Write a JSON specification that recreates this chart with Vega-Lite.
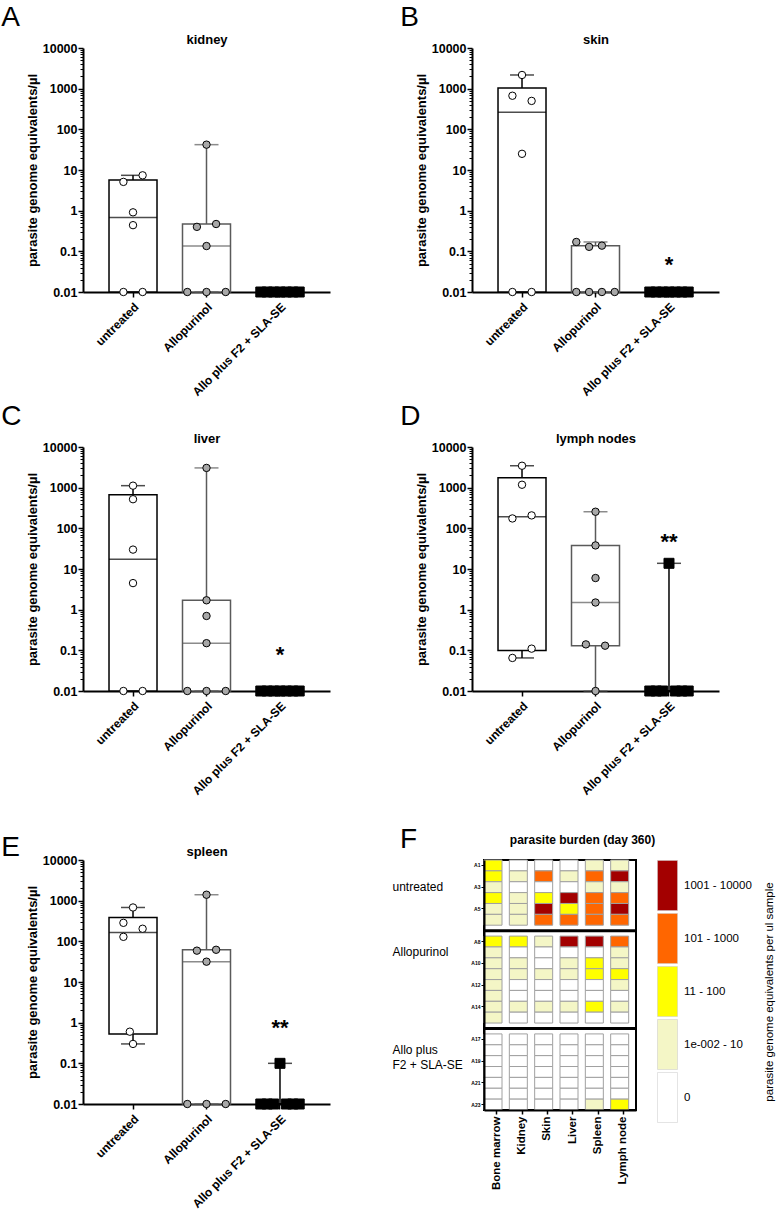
{
"$schema": "https://vega.github.io/schema/vega-lite/v6.json",
"background": "white",
"padding": {"left": 1, "top": 4, "right": 0, "bottom": 0},
"config": {
  "view": {"stroke": null},
  "font": "Liberation Sans",
  "axis": {"grid": false, "domainColor": "black", "tickColor": "black", "labelColor": "black", "titleColor": "black", "labelFont": "Liberation Sans", "titleFont": "Liberation Sans"},
  "title": {"color": "black"},
  "legend": {"labelFont": "Liberation Sans", "titleFont": "Liberation Sans", "labelColor": "black", "titleColor": "black"}
},
"datasets": {
  "boxes": [
    {"organ":"kidney","group":"untreated","min":0.01,"q1":0.01,"median":0.675,"q3":5.7,"max":7.4},
    {"organ":"kidney","group":"Allopurinol","min":0.01,"q1":0.01,"median":0.135,"q3":0.47,"max":42},
    {"organ":"kidney","group":"Allo plus F2 + SLA-SE","min":0.01,"q1":0.01,"median":0.01,"q3":0.01,"max":0.01},
    {"organ":"skin","group":"untreated","min":0.01,"q1":0.01,"median":262,"q3":1045,"max":2170},
    {"organ":"skin","group":"Allopurinol","min":0.01,"q1":0.01,"median":0.01,"q3":0.138,"max":0.17},
    {"organ":"skin","group":"Allo plus F2 + SLA-SE","min":0.01,"q1":0.01,"median":0.01,"q3":0.01,"max":0.01},
    {"organ":"liver","group":"untreated","min":0.01,"q1":0.01,"median":17.25,"q3":670,"max":1120},
    {"organ":"liver","group":"Allopurinol","min":0.01,"q1":0.01,"median":0.15,"q3":1.7,"max":3060},
    {"organ":"liver","group":"Allo plus F2 + SLA-SE","min":0.01,"q1":0.01,"median":0.01,"q3":0.01,"max":0.01},
    {"organ":"lymph nodes","group":"untreated","min":0.065,"q1":0.099,"median":191.5,"q3":1750,"max":3460},
    {"organ":"lymph nodes","group":"Allopurinol","min":0.01,"q1":0.13,"median":1.5,"q3":38,"max":256},
    {"organ":"lymph nodes","group":"Allo plus F2 + SLA-SE","min":0.01,"q1":0.01,"median":0.01,"q3":0.01,"max":13.8},
    {"organ":"spleen","group":"untreated","min":0.3,"q1":0.525,"median":166,"q3":384,"max":680},
    {"organ":"spleen","group":"Allopurinol","min":0.01,"q1":0.01,"median":31.6,"q3":62,"max":1400},
    {"organ":"spleen","group":"Allo plus F2 + SLA-SE","min":0.01,"q1":0.01,"median":0.01,"q3":0.01,"max":0.1}
  ],
  "points": [
    {"organ":"kidney","group":"untreated","value":7.4,"lane":1.5},
    {"organ":"kidney","group":"untreated","value":5.1,"lane":-1.5},
    {"organ":"kidney","group":"untreated","value":0.91,"lane":0},
    {"organ":"kidney","group":"untreated","value":0.44,"lane":0},
    {"organ":"kidney","group":"untreated","value":0.01,"lane":-1.5},
    {"organ":"kidney","group":"untreated","value":0.01,"lane":1.5},
    {"organ":"kidney","group":"Allopurinol","value":42,"lane":0},
    {"organ":"kidney","group":"Allopurinol","value":0.47,"lane":1.5},
    {"organ":"kidney","group":"Allopurinol","value":0.4,"lane":-1.5},
    {"organ":"kidney","group":"Allopurinol","value":0.135,"lane":0},
    {"organ":"kidney","group":"Allopurinol","value":0.01,"lane":-3},
    {"organ":"kidney","group":"Allopurinol","value":0.01,"lane":0},
    {"organ":"kidney","group":"Allopurinol","value":0.01,"lane":3},
    {"organ":"kidney","group":"Allo plus F2 + SLA-SE","value":0.01,"lane":-3},
    {"organ":"kidney","group":"Allo plus F2 + SLA-SE","value":0.01,"lane":-2},
    {"organ":"kidney","group":"Allo plus F2 + SLA-SE","value":0.01,"lane":-1},
    {"organ":"kidney","group":"Allo plus F2 + SLA-SE","value":0.01,"lane":0},
    {"organ":"kidney","group":"Allo plus F2 + SLA-SE","value":0.01,"lane":1},
    {"organ":"kidney","group":"Allo plus F2 + SLA-SE","value":0.01,"lane":2},
    {"organ":"kidney","group":"Allo plus F2 + SLA-SE","value":0.01,"lane":3},
    {"organ":"skin","group":"untreated","value":2170,"lane":0},
    {"organ":"skin","group":"untreated","value":670,"lane":-1.5},
    {"organ":"skin","group":"untreated","value":500,"lane":1.5},
    {"organ":"skin","group":"untreated","value":25,"lane":0},
    {"organ":"skin","group":"untreated","value":0.01,"lane":-1.5},
    {"organ":"skin","group":"untreated","value":0.01,"lane":1.5},
    {"organ":"skin","group":"Allopurinol","value":0.17,"lane":-3},
    {"organ":"skin","group":"Allopurinol","value":0.129,"lane":-1},
    {"organ":"skin","group":"Allopurinol","value":0.138,"lane":1},
    {"organ":"skin","group":"Allopurinol","value":0.01,"lane":-3},
    {"organ":"skin","group":"Allopurinol","value":0.01,"lane":-1},
    {"organ":"skin","group":"Allopurinol","value":0.01,"lane":1},
    {"organ":"skin","group":"Allopurinol","value":0.01,"lane":3},
    {"organ":"skin","group":"Allo plus F2 + SLA-SE","value":0.01,"lane":-3},
    {"organ":"skin","group":"Allo plus F2 + SLA-SE","value":0.01,"lane":-2},
    {"organ":"skin","group":"Allo plus F2 + SLA-SE","value":0.01,"lane":-1},
    {"organ":"skin","group":"Allo plus F2 + SLA-SE","value":0.01,"lane":0},
    {"organ":"skin","group":"Allo plus F2 + SLA-SE","value":0.01,"lane":1},
    {"organ":"skin","group":"Allo plus F2 + SLA-SE","value":0.01,"lane":2},
    {"organ":"skin","group":"Allo plus F2 + SLA-SE","value":0.01,"lane":3},
    {"organ":"liver","group":"untreated","value":1120,"lane":0},
    {"organ":"liver","group":"untreated","value":520,"lane":0},
    {"organ":"liver","group":"untreated","value":30,"lane":0},
    {"organ":"liver","group":"untreated","value":4.5,"lane":0},
    {"organ":"liver","group":"untreated","value":0.01,"lane":-1.5},
    {"organ":"liver","group":"untreated","value":0.01,"lane":1.5},
    {"organ":"liver","group":"Allopurinol","value":3060,"lane":0},
    {"organ":"liver","group":"Allopurinol","value":1.7,"lane":0},
    {"organ":"liver","group":"Allopurinol","value":0.7,"lane":0},
    {"organ":"liver","group":"Allopurinol","value":0.15,"lane":0},
    {"organ":"liver","group":"Allopurinol","value":0.01,"lane":-3},
    {"organ":"liver","group":"Allopurinol","value":0.01,"lane":0},
    {"organ":"liver","group":"Allopurinol","value":0.01,"lane":3},
    {"organ":"liver","group":"Allo plus F2 + SLA-SE","value":0.01,"lane":-3},
    {"organ":"liver","group":"Allo plus F2 + SLA-SE","value":0.01,"lane":-2},
    {"organ":"liver","group":"Allo plus F2 + SLA-SE","value":0.01,"lane":-1},
    {"organ":"liver","group":"Allo plus F2 + SLA-SE","value":0.01,"lane":0},
    {"organ":"liver","group":"Allo plus F2 + SLA-SE","value":0.01,"lane":1},
    {"organ":"liver","group":"Allo plus F2 + SLA-SE","value":0.01,"lane":2},
    {"organ":"liver","group":"Allo plus F2 + SLA-SE","value":0.01,"lane":3},
    {"organ":"lymph nodes","group":"untreated","value":3460,"lane":0},
    {"organ":"lymph nodes","group":"untreated","value":1180,"lane":0},
    {"organ":"lymph nodes","group":"untreated","value":175,"lane":-1.5},
    {"organ":"lymph nodes","group":"untreated","value":208,"lane":1.5},
    {"organ":"lymph nodes","group":"untreated","value":0.11,"lane":1.5},
    {"organ":"lymph nodes","group":"untreated","value":0.065,"lane":-1.5},
    {"organ":"lymph nodes","group":"Allopurinol","value":256,"lane":0},
    {"organ":"lymph nodes","group":"Allopurinol","value":38,"lane":0},
    {"organ":"lymph nodes","group":"Allopurinol","value":6,"lane":0},
    {"organ":"lymph nodes","group":"Allopurinol","value":1.5,"lane":0},
    {"organ":"lymph nodes","group":"Allopurinol","value":0.14,"lane":-1.5},
    {"organ":"lymph nodes","group":"Allopurinol","value":0.13,"lane":1.5},
    {"organ":"lymph nodes","group":"Allopurinol","value":0.01,"lane":0},
    {"organ":"lymph nodes","group":"Allo plus F2 + SLA-SE","value":13.8,"lane":0},
    {"organ":"lymph nodes","group":"Allo plus F2 + SLA-SE","value":0.01,"lane":-3},
    {"organ":"lymph nodes","group":"Allo plus F2 + SLA-SE","value":0.01,"lane":-2},
    {"organ":"lymph nodes","group":"Allo plus F2 + SLA-SE","value":0.01,"lane":-1},
    {"organ":"lymph nodes","group":"Allo plus F2 + SLA-SE","value":0.01,"lane":1},
    {"organ":"lymph nodes","group":"Allo plus F2 + SLA-SE","value":0.01,"lane":2},
    {"organ":"lymph nodes","group":"Allo plus F2 + SLA-SE","value":0.01,"lane":3},
    {"organ":"spleen","group":"untreated","value":680,"lane":0},
    {"organ":"spleen","group":"untreated","value":285,"lane":-1.5},
    {"organ":"spleen","group":"untreated","value":204,"lane":1.5},
    {"organ":"spleen","group":"untreated","value":129,"lane":-1.5},
    {"organ":"spleen","group":"untreated","value":0.6,"lane":-0.5},
    {"organ":"spleen","group":"untreated","value":0.3,"lane":0},
    {"organ":"spleen","group":"Allopurinol","value":1400,"lane":0},
    {"organ":"spleen","group":"Allopurinol","value":59,"lane":-1.5},
    {"organ":"spleen","group":"Allopurinol","value":62,"lane":1.5},
    {"organ":"spleen","group":"Allopurinol","value":31.6,"lane":0},
    {"organ":"spleen","group":"Allopurinol","value":0.01,"lane":-3},
    {"organ":"spleen","group":"Allopurinol","value":0.01,"lane":0},
    {"organ":"spleen","group":"Allopurinol","value":0.01,"lane":3},
    {"organ":"spleen","group":"Allo plus F2 + SLA-SE","value":0.1,"lane":0},
    {"organ":"spleen","group":"Allo plus F2 + SLA-SE","value":0.01,"lane":-3},
    {"organ":"spleen","group":"Allo plus F2 + SLA-SE","value":0.01,"lane":-2},
    {"organ":"spleen","group":"Allo plus F2 + SLA-SE","value":0.01,"lane":-1},
    {"organ":"spleen","group":"Allo plus F2 + SLA-SE","value":0.01,"lane":1},
    {"organ":"spleen","group":"Allo plus F2 + SLA-SE","value":0.01,"lane":2},
    {"organ":"spleen","group":"Allo plus F2 + SLA-SE","value":0.01,"lane":3}
  ],
  "stars": [
    {"organ":"skin","group":"Allo plus F2 + SLA-SE","value":0.06,"label":"*"},
    {"organ":"liver","group":"Allo plus F2 + SLA-SE","value":0.1,"label":"*"},
    {"organ":"lymph nodes","group":"Allo plus F2 + SLA-SE","value":60,"label":"**"},
    {"organ":"spleen","group":"Allo plus F2 + SLA-SE","value":1,"label":"**"}
  ],
  "separators": [{"mouse":"A7"},{"mouse":"A16"}],
  "heat": [
    {"mouse":"A1","tissue":"Bone marrow","level":"11 - 100"},{"mouse":"A1","tissue":"Kidney","level":"0"},{"mouse":"A1","tissue":"Skin","level":"0"},{"mouse":"A1","tissue":"Liver","level":"0"},{"mouse":"A1","tissue":"Spleen","level":"1e-002 - 10"},{"mouse":"A1","tissue":"Lymph node","level":"1e-002 - 10"},
    {"mouse":"A2","tissue":"Bone marrow","level":"11 - 100"},{"mouse":"A2","tissue":"Kidney","level":"1e-002 - 10"},{"mouse":"A2","tissue":"Skin","level":"101 - 1000"},{"mouse":"A2","tissue":"Liver","level":"1e-002 - 10"},{"mouse":"A2","tissue":"Spleen","level":"101 - 1000"},{"mouse":"A2","tissue":"Lymph node","level":"1001 - 10000"},
    {"mouse":"A3","tissue":"Bone marrow","level":"1e-002 - 10"},{"mouse":"A3","tissue":"Kidney","level":"0"},{"mouse":"A3","tissue":"Skin","level":"0"},{"mouse":"A3","tissue":"Liver","level":"0"},{"mouse":"A3","tissue":"Spleen","level":"1e-002 - 10"},{"mouse":"A3","tissue":"Lymph node","level":"1e-002 - 10"},
    {"mouse":"A4","tissue":"Bone marrow","level":"11 - 100"},{"mouse":"A4","tissue":"Kidney","level":"1e-002 - 10"},{"mouse":"A4","tissue":"Skin","level":"11 - 100"},{"mouse":"A4","tissue":"Liver","level":"1001 - 10000"},{"mouse":"A4","tissue":"Spleen","level":"101 - 1000"},{"mouse":"A4","tissue":"Lymph node","level":"101 - 1000"},
    {"mouse":"A5","tissue":"Bone marrow","level":"1e-002 - 10"},{"mouse":"A5","tissue":"Kidney","level":"1e-002 - 10"},{"mouse":"A5","tissue":"Skin","level":"1001 - 10000"},{"mouse":"A5","tissue":"Liver","level":"11 - 100"},{"mouse":"A5","tissue":"Spleen","level":"101 - 1000"},{"mouse":"A5","tissue":"Lymph node","level":"1001 - 10000"},
    {"mouse":"A6","tissue":"Bone marrow","level":"1e-002 - 10"},{"mouse":"A6","tissue":"Kidney","level":"1e-002 - 10"},{"mouse":"A6","tissue":"Skin","level":"101 - 1000"},{"mouse":"A6","tissue":"Liver","level":"101 - 1000"},{"mouse":"A6","tissue":"Spleen","level":"101 - 1000"},{"mouse":"A6","tissue":"Lymph node","level":"101 - 1000"},
    {"mouse":"A8","tissue":"Bone marrow","level":"11 - 100"},{"mouse":"A8","tissue":"Kidney","level":"11 - 100"},{"mouse":"A8","tissue":"Skin","level":"1e-002 - 10"},{"mouse":"A8","tissue":"Liver","level":"1001 - 10000"},{"mouse":"A8","tissue":"Spleen","level":"1001 - 10000"},{"mouse":"A8","tissue":"Lymph node","level":"101 - 1000"},
    {"mouse":"A9","tissue":"Bone marrow","level":"1e-002 - 10"},{"mouse":"A9","tissue":"Kidney","level":"0"},{"mouse":"A9","tissue":"Skin","level":"0"},{"mouse":"A9","tissue":"Liver","level":"0"},{"mouse":"A9","tissue":"Spleen","level":"0"},{"mouse":"A9","tissue":"Lymph node","level":"1e-002 - 10"},
    {"mouse":"A10","tissue":"Bone marrow","level":"1e-002 - 10"},{"mouse":"A10","tissue":"Kidney","level":"1e-002 - 10"},{"mouse":"A10","tissue":"Skin","level":"0"},{"mouse":"A10","tissue":"Liver","level":"1e-002 - 10"},{"mouse":"A10","tissue":"Spleen","level":"11 - 100"},{"mouse":"A10","tissue":"Lymph node","level":"1e-002 - 10"},
    {"mouse":"A11","tissue":"Bone marrow","level":"1e-002 - 10"},{"mouse":"A11","tissue":"Kidney","level":"1e-002 - 10"},{"mouse":"A11","tissue":"Skin","level":"1e-002 - 10"},{"mouse":"A11","tissue":"Liver","level":"1e-002 - 10"},{"mouse":"A11","tissue":"Spleen","level":"11 - 100"},{"mouse":"A11","tissue":"Lymph node","level":"11 - 100"},
    {"mouse":"A12","tissue":"Bone marrow","level":"1e-002 - 10"},{"mouse":"A12","tissue":"Kidney","level":"0"},{"mouse":"A12","tissue":"Skin","level":"0"},{"mouse":"A12","tissue":"Liver","level":"0"},{"mouse":"A12","tissue":"Spleen","level":"0"},{"mouse":"A12","tissue":"Lymph node","level":"1e-002 - 10"},
    {"mouse":"A13","tissue":"Bone marrow","level":"1e-002 - 10"},{"mouse":"A13","tissue":"Kidney","level":"0"},{"mouse":"A13","tissue":"Skin","level":"0"},{"mouse":"A13","tissue":"Liver","level":"0"},{"mouse":"A13","tissue":"Spleen","level":"0"},{"mouse":"A13","tissue":"Lymph node","level":"0"},
    {"mouse":"A14","tissue":"Bone marrow","level":"1e-002 - 10"},{"mouse":"A14","tissue":"Kidney","level":"1e-002 - 10"},{"mouse":"A14","tissue":"Skin","level":"1e-002 - 10"},{"mouse":"A14","tissue":"Liver","level":"1e-002 - 10"},{"mouse":"A14","tissue":"Spleen","level":"11 - 100"},{"mouse":"A14","tissue":"Lymph node","level":"1e-002 - 10"},
    {"mouse":"A15","tissue":"Bone marrow","level":"1e-002 - 10"},{"mouse":"A15","tissue":"Kidney","level":"0"},{"mouse":"A15","tissue":"Skin","level":"0"},{"mouse":"A15","tissue":"Liver","level":"0"},{"mouse":"A15","tissue":"Spleen","level":"0"},{"mouse":"A15","tissue":"Lymph node","level":"0"},
    {"mouse":"A17","tissue":"Bone marrow","level":"0"},{"mouse":"A17","tissue":"Kidney","level":"0"},{"mouse":"A17","tissue":"Skin","level":"0"},{"mouse":"A17","tissue":"Liver","level":"0"},{"mouse":"A17","tissue":"Spleen","level":"0"},{"mouse":"A17","tissue":"Lymph node","level":"0"},
    {"mouse":"A18","tissue":"Bone marrow","level":"0"},{"mouse":"A18","tissue":"Kidney","level":"0"},{"mouse":"A18","tissue":"Skin","level":"0"},{"mouse":"A18","tissue":"Liver","level":"0"},{"mouse":"A18","tissue":"Spleen","level":"0"},{"mouse":"A18","tissue":"Lymph node","level":"0"},
    {"mouse":"A19","tissue":"Bone marrow","level":"0"},{"mouse":"A19","tissue":"Kidney","level":"0"},{"mouse":"A19","tissue":"Skin","level":"0"},{"mouse":"A19","tissue":"Liver","level":"0"},{"mouse":"A19","tissue":"Spleen","level":"0"},{"mouse":"A19","tissue":"Lymph node","level":"0"},
    {"mouse":"A20","tissue":"Bone marrow","level":"0"},{"mouse":"A20","tissue":"Kidney","level":"0"},{"mouse":"A20","tissue":"Skin","level":"0"},{"mouse":"A20","tissue":"Liver","level":"0"},{"mouse":"A20","tissue":"Spleen","level":"0"},{"mouse":"A20","tissue":"Lymph node","level":"0"},
    {"mouse":"A21","tissue":"Bone marrow","level":"0"},{"mouse":"A21","tissue":"Kidney","level":"0"},{"mouse":"A21","tissue":"Skin","level":"0"},{"mouse":"A21","tissue":"Liver","level":"0"},{"mouse":"A21","tissue":"Spleen","level":"0"},{"mouse":"A21","tissue":"Lymph node","level":"0"},
    {"mouse":"A22","tissue":"Bone marrow","level":"0"},{"mouse":"A22","tissue":"Kidney","level":"0"},{"mouse":"A22","tissue":"Skin","level":"0"},{"mouse":"A22","tissue":"Liver","level":"0"},{"mouse":"A22","tissue":"Spleen","level":"0"},{"mouse":"A22","tissue":"Lymph node","level":"0"},
    {"mouse":"A23","tissue":"Bone marrow","level":"0"},{"mouse":"A23","tissue":"Kidney","level":"0"},{"mouse":"A23","tissue":"Skin","level":"0"},{"mouse":"A23","tissue":"Liver","level":"0"},{"mouse":"A23","tissue":"Spleen","level":"1e-002 - 10"},{"mouse":"A23","tissue":"Lymph node","level":"11 - 100"}
  ]
},
"columns": 1,
"align": "none",
"spacing": 28,
"resolve": {"scale": {"color": "independent"}, "legend": {"color": "independent"}},
"concat": [
 {"spacing": 5, "vconcat": [
  {"spacing": 70, "hconcat": [
   {"width": 247, "height": 244,
    "title": {"text": "A", "anchor": "start", "frame": "bounds", "dx": -25, "offset": 1, "fontSize": 28, "font": "Liberation Sans", "fontWeight": "normal"},
    "resolve": {"axis": {"x": "independent", "y": "independent"}},
    "layer": [
     {"data": {"name": "boxes"}, "transform": [{"filter": "datum.organ === 'kidney'"}],
      "mark": {"type": "rule", "strokeWidth": 1.5},
      "encoding": {
       "x": {"field": "group", "type": "nominal", "scale": {"domain": ["untreated", "Allopurinol", "Allo plus F2 + SLA-SE"], "paddingInner": 0.347, "paddingOuter": 0.354}, "axis": {"orient": "bottom", "title": null, "labelAngle": -45, "labelFontSize": 12, "labelFontWeight": "bold", "tickSize": 5, "tickWidth": 1.5, "domainWidth": 2, "labelPadding": 4}},
       "y": {"field": "min", "type": "quantitative", "scale": {"type": "log", "domain": [0.01, 10000], "nice": false}, "axis": {"orient": "left", "values": [0.01, 0.1, 1, 10, 100, 1000, 10000], "format": "~g", "title": "parasite genome equivalents/µl", "titleFontSize": 13, "titleFontWeight": "bold", "labelFontSize": 12.5, "labelFontWeight": "bold", "tickSize": 5, "tickWidth": 1.5, "domainWidth": 2, "labelPadding": 1, "titlePadding": 3}},
       "y2": {"field": "max"},
       "color": {"condition": {"test": "datum.group === 'Allopurinol'", "value": "#5a5a5a"}, "value": "black"}
      }},
     {"data": {"name": "boxes"}, "transform": [{"filter": "datum.organ === 'kidney'"}],
      "mark": {"type": "bar", "fill": "white", "strokeWidth": 1.5, "width": 48},
      "encoding": {
       "x": {"field": "group", "type": "nominal", "axis": {"orient": "top", "title": "kidney", "domain": false, "ticks": false, "labels": false, "titleFontSize": 13, "titleFontWeight": "bold", "titlePadding": 2}},
       "y": {"field": "q1", "type": "quantitative", "axis": {"orient": "left", "values": [0.02,0.03,0.04,0.05,0.06,0.07,0.08,0.09,0.2,0.3,0.4,0.5,0.6,0.7,0.8,0.9,2,3,4,5,6,7,8,9,20,30,40,50,60,70,80,90,200,300,400,500,600,700,800,900,2000,3000,4000,5000,6000,7000,8000,9000], "labels": false, "domain": false, "tickSize": 3, "tickWidth": 1, "title": null}},
       "y2": {"field": "q3"},
       "stroke": {"condition": {"test": "datum.group === 'Allopurinol'", "value": "#5a5a5a"}, "value": "black"}
      }},
     {"data": {"name": "boxes"}, "transform": [{"filter": "datum.organ === 'kidney'"}],
      "mark": {"type": "tick", "thickness": 1.5, "size": 48},
      "encoding": {"x": {"field": "group", "type": "nominal", "axis": null}, "y": {"field": "median", "type": "quantitative", "axis": null},
       "color": {"condition": {"test": "datum.group === 'Allopurinol'", "value": "#5a5a5a"}, "value": "black"}}},
     {"data": {"name": "boxes"}, "transform": [{"filter": "datum.organ === 'kidney'"}],
      "mark": {"type": "tick", "thickness": 1.5, "size": 24},
      "encoding": {"x": {"field": "group", "type": "nominal", "axis": null}, "y": {"field": "max", "type": "quantitative", "axis": null},
       "color": {"condition": {"test": "datum.group === 'Allopurinol'", "value": "#5a5a5a"}, "value": "black"}}},
     {"data": {"name": "boxes"}, "transform": [{"filter": "datum.organ === 'kidney'"}],
      "mark": {"type": "tick", "thickness": 1.5, "size": 24},
      "encoding": {"x": {"field": "group", "type": "nominal", "axis": null}, "y": {"field": "min", "type": "quantitative", "axis": null},
       "color": {"condition": {"test": "datum.group === 'Allopurinol'", "value": "#5a5a5a"}, "value": "black"}}},
     {"data": {"name": "points"}, "transform": [{"filter": "datum.organ === 'kidney'"}],
      "mark": {"type": "point", "filled": true, "stroke": "black", "strokeWidth": 1, "opacity": 1},
      "encoding": {"x": {"field": "group", "type": "nominal", "axis": null},
       "xOffset": {"field": "lane", "type": "quantitative", "scale": {"domain": [-4, 4], "range": [-1.6, 49.6]}},
       "y": {"field": "value", "type": "quantitative", "axis": null},
       "fill": {"condition": [{"test": "datum.group === 'untreated'", "value": "white"}, {"test": "datum.group === 'Allopurinol'", "value": "#a8a8a8"}], "value": "black"},
       "shape": {"condition": {"test": "datum.group === 'Allo plus F2 + SLA-SE'", "value": "square"}, "value": "circle"},
       "size": {"condition": {"test": "datum.group === 'Allo plus F2 + SLA-SE'", "value": 100}, "value": 55}}}
    ]},
   {"width": 247, "height": 244,
    "title": {"text": "B", "anchor": "start", "frame": "bounds", "dx": -15, "offset": 1, "fontSize": 28, "font": "Liberation Sans", "fontWeight": "normal"},
    "resolve": {"axis": {"x": "independent", "y": "independent"}},
    "layer": [
     {"data": {"name": "boxes"}, "transform": [{"filter": "datum.organ === 'skin'"}],
      "mark": {"type": "rule", "strokeWidth": 1.5},
      "encoding": {
       "x": {"field": "group", "type": "nominal", "scale": {"domain": ["untreated", "Allopurinol", "Allo plus F2 + SLA-SE"], "paddingInner": 0.347, "paddingOuter": 0.354}, "axis": {"orient": "bottom", "title": null, "labelAngle": -45, "labelFontSize": 12, "labelFontWeight": "bold", "tickSize": 5, "tickWidth": 1.5, "domainWidth": 2, "labelPadding": 4}},
       "y": {"field": "min", "type": "quantitative", "scale": {"type": "log", "domain": [0.01, 10000], "nice": false}, "axis": {"orient": "left", "values": [0.01, 0.1, 1, 10, 100, 1000, 10000], "format": "~g", "title": "parasite genome equivalents/µl", "titleFontSize": 13, "titleFontWeight": "bold", "labelFontSize": 12.5, "labelFontWeight": "bold", "tickSize": 5, "tickWidth": 1.5, "domainWidth": 2, "labelPadding": 1, "titlePadding": 3}},
       "y2": {"field": "max"},
       "color": {"condition": {"test": "datum.group === 'Allopurinol'", "value": "#5a5a5a"}, "value": "black"}
      }},
     {"data": {"name": "boxes"}, "transform": [{"filter": "datum.organ === 'skin'"}],
      "mark": {"type": "bar", "fill": "white", "strokeWidth": 1.5, "width": 48},
      "encoding": {
       "x": {"field": "group", "type": "nominal", "axis": {"orient": "top", "title": "skin", "domain": false, "ticks": false, "labels": false, "titleFontSize": 13, "titleFontWeight": "bold", "titlePadding": 2}},
       "y": {"field": "q1", "type": "quantitative", "axis": {"orient": "left", "values": [0.02,0.03,0.04,0.05,0.06,0.07,0.08,0.09,0.2,0.3,0.4,0.5,0.6,0.7,0.8,0.9,2,3,4,5,6,7,8,9,20,30,40,50,60,70,80,90,200,300,400,500,600,700,800,900,2000,3000,4000,5000,6000,7000,8000,9000], "labels": false, "domain": false, "tickSize": 3, "tickWidth": 1, "title": null}},
       "y2": {"field": "q3"},
       "stroke": {"condition": {"test": "datum.group === 'Allopurinol'", "value": "#5a5a5a"}, "value": "black"}
      }},
     {"data": {"name": "boxes"}, "transform": [{"filter": "datum.organ === 'skin'"}],
      "mark": {"type": "tick", "thickness": 1.5, "size": 48},
      "encoding": {"x": {"field": "group", "type": "nominal", "axis": null}, "y": {"field": "median", "type": "quantitative", "axis": null},
       "color": {"condition": {"test": "datum.group === 'Allopurinol'", "value": "#5a5a5a"}, "value": "black"}}},
     {"data": {"name": "boxes"}, "transform": [{"filter": "datum.organ === 'skin'"}],
      "mark": {"type": "tick", "thickness": 1.5, "size": 24},
      "encoding": {"x": {"field": "group", "type": "nominal", "axis": null}, "y": {"field": "max", "type": "quantitative", "axis": null},
       "color": {"condition": {"test": "datum.group === 'Allopurinol'", "value": "#5a5a5a"}, "value": "black"}}},
     {"data": {"name": "boxes"}, "transform": [{"filter": "datum.organ === 'skin'"}],
      "mark": {"type": "tick", "thickness": 1.5, "size": 24},
      "encoding": {"x": {"field": "group", "type": "nominal", "axis": null}, "y": {"field": "min", "type": "quantitative", "axis": null},
       "color": {"condition": {"test": "datum.group === 'Allopurinol'", "value": "#5a5a5a"}, "value": "black"}}},
     {"data": {"name": "points"}, "transform": [{"filter": "datum.organ === 'skin'"}],
      "mark": {"type": "point", "filled": true, "stroke": "black", "strokeWidth": 1, "opacity": 1},
      "encoding": {"x": {"field": "group", "type": "nominal", "axis": null},
       "xOffset": {"field": "lane", "type": "quantitative", "scale": {"domain": [-4, 4], "range": [-1.6, 49.6]}},
       "y": {"field": "value", "type": "quantitative", "axis": null},
       "fill": {"condition": [{"test": "datum.group === 'untreated'", "value": "white"}, {"test": "datum.group === 'Allopurinol'", "value": "#a8a8a8"}], "value": "black"},
       "shape": {"condition": {"test": "datum.group === 'Allo plus F2 + SLA-SE'", "value": "square"}, "value": "circle"},
       "size": {"condition": {"test": "datum.group === 'Allo plus F2 + SLA-SE'", "value": 100}, "value": 55}}},
     {"data": {"name": "stars"}, "transform": [{"filter": "datum.organ === 'skin'"}],
      "mark": {"type": "text", "fontSize": 22, "fontWeight": "bold", "baseline": "middle", "dy": 5, "color": "black"},
      "encoding": {"x": {"field": "group", "type": "nominal", "axis": null}, "y": {"field": "value", "type": "quantitative", "axis": null}, "text": {"field": "label"}}}
    ]}
  ]},
  {"spacing": 70, "hconcat": [
   {"width": 247, "height": 244,
    "title": {"text": "C", "anchor": "start", "frame": "bounds", "dx": -25, "offset": 1, "fontSize": 28, "font": "Liberation Sans", "fontWeight": "normal"},
    "resolve": {"axis": {"x": "independent", "y": "independent"}},
    "layer": [
     {"data": {"name": "boxes"}, "transform": [{"filter": "datum.organ === 'liver'"}],
      "mark": {"type": "rule", "strokeWidth": 1.5},
      "encoding": {
       "x": {"field": "group", "type": "nominal", "scale": {"domain": ["untreated", "Allopurinol", "Allo plus F2 + SLA-SE"], "paddingInner": 0.347, "paddingOuter": 0.354}, "axis": {"orient": "bottom", "title": null, "labelAngle": -45, "labelFontSize": 12, "labelFontWeight": "bold", "tickSize": 5, "tickWidth": 1.5, "domainWidth": 2, "labelPadding": 4}},
       "y": {"field": "min", "type": "quantitative", "scale": {"type": "log", "domain": [0.01, 10000], "nice": false}, "axis": {"orient": "left", "values": [0.01, 0.1, 1, 10, 100, 1000, 10000], "format": "~g", "title": "parasite genome equivalents/µl", "titleFontSize": 13, "titleFontWeight": "bold", "labelFontSize": 12.5, "labelFontWeight": "bold", "tickSize": 5, "tickWidth": 1.5, "domainWidth": 2, "labelPadding": 1, "titlePadding": 3}},
       "y2": {"field": "max"},
       "color": {"condition": {"test": "datum.group === 'Allopurinol'", "value": "#5a5a5a"}, "value": "black"}
      }},
     {"data": {"name": "boxes"}, "transform": [{"filter": "datum.organ === 'liver'"}],
      "mark": {"type": "bar", "fill": "white", "strokeWidth": 1.5, "width": 48},
      "encoding": {
       "x": {"field": "group", "type": "nominal", "axis": {"orient": "top", "title": "liver", "domain": false, "ticks": false, "labels": false, "titleFontSize": 13, "titleFontWeight": "bold", "titlePadding": 2}},
       "y": {"field": "q1", "type": "quantitative", "axis": {"orient": "left", "values": [0.02,0.03,0.04,0.05,0.06,0.07,0.08,0.09,0.2,0.3,0.4,0.5,0.6,0.7,0.8,0.9,2,3,4,5,6,7,8,9,20,30,40,50,60,70,80,90,200,300,400,500,600,700,800,900,2000,3000,4000,5000,6000,7000,8000,9000], "labels": false, "domain": false, "tickSize": 3, "tickWidth": 1, "title": null}},
       "y2": {"field": "q3"},
       "stroke": {"condition": {"test": "datum.group === 'Allopurinol'", "value": "#5a5a5a"}, "value": "black"}
      }},
     {"data": {"name": "boxes"}, "transform": [{"filter": "datum.organ === 'liver'"}],
      "mark": {"type": "tick", "thickness": 1.5, "size": 48},
      "encoding": {"x": {"field": "group", "type": "nominal", "axis": null}, "y": {"field": "median", "type": "quantitative", "axis": null},
       "color": {"condition": {"test": "datum.group === 'Allopurinol'", "value": "#5a5a5a"}, "value": "black"}}},
     {"data": {"name": "boxes"}, "transform": [{"filter": "datum.organ === 'liver'"}],
      "mark": {"type": "tick", "thickness": 1.5, "size": 24},
      "encoding": {"x": {"field": "group", "type": "nominal", "axis": null}, "y": {"field": "max", "type": "quantitative", "axis": null},
       "color": {"condition": {"test": "datum.group === 'Allopurinol'", "value": "#5a5a5a"}, "value": "black"}}},
     {"data": {"name": "boxes"}, "transform": [{"filter": "datum.organ === 'liver'"}],
      "mark": {"type": "tick", "thickness": 1.5, "size": 24},
      "encoding": {"x": {"field": "group", "type": "nominal", "axis": null}, "y": {"field": "min", "type": "quantitative", "axis": null},
       "color": {"condition": {"test": "datum.group === 'Allopurinol'", "value": "#5a5a5a"}, "value": "black"}}},
     {"data": {"name": "points"}, "transform": [{"filter": "datum.organ === 'liver'"}],
      "mark": {"type": "point", "filled": true, "stroke": "black", "strokeWidth": 1, "opacity": 1},
      "encoding": {"x": {"field": "group", "type": "nominal", "axis": null},
       "xOffset": {"field": "lane", "type": "quantitative", "scale": {"domain": [-4, 4], "range": [-1.6, 49.6]}},
       "y": {"field": "value", "type": "quantitative", "axis": null},
       "fill": {"condition": [{"test": "datum.group === 'untreated'", "value": "white"}, {"test": "datum.group === 'Allopurinol'", "value": "#a8a8a8"}], "value": "black"},
       "shape": {"condition": {"test": "datum.group === 'Allo plus F2 + SLA-SE'", "value": "square"}, "value": "circle"},
       "size": {"condition": {"test": "datum.group === 'Allo plus F2 + SLA-SE'", "value": 100}, "value": 55}}},
     {"data": {"name": "stars"}, "transform": [{"filter": "datum.organ === 'liver'"}],
      "mark": {"type": "text", "fontSize": 22, "fontWeight": "bold", "baseline": "middle", "dy": 5, "color": "black"},
      "encoding": {"x": {"field": "group", "type": "nominal", "axis": null}, "y": {"field": "value", "type": "quantitative", "axis": null}, "text": {"field": "label"}}}
    ]},
   {"width": 247, "height": 244,
    "title": {"text": "D", "anchor": "start", "frame": "bounds", "dx": -15, "offset": 1, "fontSize": 28, "font": "Liberation Sans", "fontWeight": "normal"},
    "resolve": {"axis": {"x": "independent", "y": "independent"}},
    "layer": [
     {"data": {"name": "boxes"}, "transform": [{"filter": "datum.organ === 'lymph nodes'"}],
      "mark": {"type": "rule", "strokeWidth": 1.5},
      "encoding": {
       "x": {"field": "group", "type": "nominal", "scale": {"domain": ["untreated", "Allopurinol", "Allo plus F2 + SLA-SE"], "paddingInner": 0.347, "paddingOuter": 0.354}, "axis": {"orient": "bottom", "title": null, "labelAngle": -45, "labelFontSize": 12, "labelFontWeight": "bold", "tickSize": 5, "tickWidth": 1.5, "domainWidth": 2, "labelPadding": 4}},
       "y": {"field": "min", "type": "quantitative", "scale": {"type": "log", "domain": [0.01, 10000], "nice": false}, "axis": {"orient": "left", "values": [0.01, 0.1, 1, 10, 100, 1000, 10000], "format": "~g", "title": "parasite genome equivalents/µl", "titleFontSize": 13, "titleFontWeight": "bold", "labelFontSize": 12.5, "labelFontWeight": "bold", "tickSize": 5, "tickWidth": 1.5, "domainWidth": 2, "labelPadding": 1, "titlePadding": 3}},
       "y2": {"field": "max"},
       "color": {"condition": {"test": "datum.group === 'Allopurinol'", "value": "#5a5a5a"}, "value": "black"}
      }},
     {"data": {"name": "boxes"}, "transform": [{"filter": "datum.organ === 'lymph nodes'"}],
      "mark": {"type": "bar", "fill": "white", "strokeWidth": 1.5, "width": 48},
      "encoding": {
       "x": {"field": "group", "type": "nominal", "axis": {"orient": "top", "title": "lymph nodes", "domain": false, "ticks": false, "labels": false, "titleFontSize": 13, "titleFontWeight": "bold", "titlePadding": 2}},
       "y": {"field": "q1", "type": "quantitative", "axis": {"orient": "left", "values": [0.02,0.03,0.04,0.05,0.06,0.07,0.08,0.09,0.2,0.3,0.4,0.5,0.6,0.7,0.8,0.9,2,3,4,5,6,7,8,9,20,30,40,50,60,70,80,90,200,300,400,500,600,700,800,900,2000,3000,4000,5000,6000,7000,8000,9000], "labels": false, "domain": false, "tickSize": 3, "tickWidth": 1, "title": null}},
       "y2": {"field": "q3"},
       "stroke": {"condition": {"test": "datum.group === 'Allopurinol'", "value": "#5a5a5a"}, "value": "black"}
      }},
     {"data": {"name": "boxes"}, "transform": [{"filter": "datum.organ === 'lymph nodes'"}],
      "mark": {"type": "tick", "thickness": 1.5, "size": 48},
      "encoding": {"x": {"field": "group", "type": "nominal", "axis": null}, "y": {"field": "median", "type": "quantitative", "axis": null},
       "color": {"condition": {"test": "datum.group === 'Allopurinol'", "value": "#5a5a5a"}, "value": "black"}}},
     {"data": {"name": "boxes"}, "transform": [{"filter": "datum.organ === 'lymph nodes'"}],
      "mark": {"type": "tick", "thickness": 1.5, "size": 24},
      "encoding": {"x": {"field": "group", "type": "nominal", "axis": null}, "y": {"field": "max", "type": "quantitative", "axis": null},
       "color": {"condition": {"test": "datum.group === 'Allopurinol'", "value": "#5a5a5a"}, "value": "black"}}},
     {"data": {"name": "boxes"}, "transform": [{"filter": "datum.organ === 'lymph nodes'"}],
      "mark": {"type": "tick", "thickness": 1.5, "size": 24},
      "encoding": {"x": {"field": "group", "type": "nominal", "axis": null}, "y": {"field": "min", "type": "quantitative", "axis": null},
       "color": {"condition": {"test": "datum.group === 'Allopurinol'", "value": "#5a5a5a"}, "value": "black"}}},
     {"data": {"name": "points"}, "transform": [{"filter": "datum.organ === 'lymph nodes'"}],
      "mark": {"type": "point", "filled": true, "stroke": "black", "strokeWidth": 1, "opacity": 1},
      "encoding": {"x": {"field": "group", "type": "nominal", "axis": null},
       "xOffset": {"field": "lane", "type": "quantitative", "scale": {"domain": [-4, 4], "range": [-1.6, 49.6]}},
       "y": {"field": "value", "type": "quantitative", "axis": null},
       "fill": {"condition": [{"test": "datum.group === 'untreated'", "value": "white"}, {"test": "datum.group === 'Allopurinol'", "value": "#a8a8a8"}], "value": "black"},
       "shape": {"condition": {"test": "datum.group === 'Allo plus F2 + SLA-SE'", "value": "square"}, "value": "circle"},
       "size": {"condition": {"test": "datum.group === 'Allo plus F2 + SLA-SE'", "value": 100}, "value": 55}}},
     {"data": {"name": "stars"}, "transform": [{"filter": "datum.organ === 'lymph nodes'"}],
      "mark": {"type": "text", "fontSize": 22, "fontWeight": "bold", "baseline": "middle", "dy": 5, "color": "black"},
      "encoding": {"x": {"field": "group", "type": "nominal", "axis": null}, "y": {"field": "value", "type": "quantitative", "axis": null}, "text": {"field": "label"}}}
    ]}
  ]}
 ]},
 {"spacing": 61,
  "resolve": {"scale": {"color": "independent"}, "legend": {"color": "independent"}},
  "hconcat": [
   {"width": 247, "height": 244,
    "title": {"text": "E", "anchor": "start", "frame": "bounds", "dx": -25, "offset": -17, "fontSize": 28, "font": "Liberation Sans", "fontWeight": "normal"},
    "resolve": {"axis": {"x": "independent", "y": "independent"}},
    "layer": [
     {"data": {"name": "boxes"}, "transform": [{"filter": "datum.organ === 'spleen'"}],
      "mark": {"type": "rule", "strokeWidth": 1.5},
      "encoding": {
       "x": {"field": "group", "type": "nominal", "scale": {"domain": ["untreated", "Allopurinol", "Allo plus F2 + SLA-SE"], "paddingInner": 0.347, "paddingOuter": 0.354}, "axis": {"orient": "bottom", "title": null, "labelAngle": -45, "labelFontSize": 12, "labelFontWeight": "bold", "tickSize": 5, "tickWidth": 1.5, "domainWidth": 2, "labelPadding": 4}},
       "y": {"field": "min", "type": "quantitative", "scale": {"type": "log", "domain": [0.01, 10000], "nice": false}, "axis": {"orient": "left", "values": [0.01, 0.1, 1, 10, 100, 1000, 10000], "format": "~g", "title": "parasite genome equivalents/µl", "titleFontSize": 13, "titleFontWeight": "bold", "labelFontSize": 12.5, "labelFontWeight": "bold", "tickSize": 5, "tickWidth": 1.5, "domainWidth": 2, "labelPadding": 1, "titlePadding": 3}},
       "y2": {"field": "max"},
       "color": {"condition": {"test": "datum.group === 'Allopurinol'", "value": "#5a5a5a"}, "value": "black"}
      }},
     {"data": {"name": "boxes"}, "transform": [{"filter": "datum.organ === 'spleen'"}],
      "mark": {"type": "bar", "fill": "white", "strokeWidth": 1.5, "width": 48},
      "encoding": {
       "x": {"field": "group", "type": "nominal", "axis": {"orient": "top", "title": "spleen", "domain": false, "ticks": false, "labels": false, "titleFontSize": 13, "titleFontWeight": "bold", "titlePadding": 2}},
       "y": {"field": "q1", "type": "quantitative", "axis": {"orient": "left", "values": [0.02,0.03,0.04,0.05,0.06,0.07,0.08,0.09,0.2,0.3,0.4,0.5,0.6,0.7,0.8,0.9,2,3,4,5,6,7,8,9,20,30,40,50,60,70,80,90,200,300,400,500,600,700,800,900,2000,3000,4000,5000,6000,7000,8000,9000], "labels": false, "domain": false, "tickSize": 3, "tickWidth": 1, "title": null}},
       "y2": {"field": "q3"},
       "stroke": {"condition": {"test": "datum.group === 'Allopurinol'", "value": "#5a5a5a"}, "value": "black"}
      }},
     {"data": {"name": "boxes"}, "transform": [{"filter": "datum.organ === 'spleen'"}],
      "mark": {"type": "tick", "thickness": 1.5, "size": 48},
      "encoding": {"x": {"field": "group", "type": "nominal", "axis": null}, "y": {"field": "median", "type": "quantitative", "axis": null},
       "color": {"condition": {"test": "datum.group === 'Allopurinol'", "value": "#5a5a5a"}, "value": "black"}}},
     {"data": {"name": "boxes"}, "transform": [{"filter": "datum.organ === 'spleen'"}],
      "mark": {"type": "tick", "thickness": 1.5, "size": 24},
      "encoding": {"x": {"field": "group", "type": "nominal", "axis": null}, "y": {"field": "max", "type": "quantitative", "axis": null},
       "color": {"condition": {"test": "datum.group === 'Allopurinol'", "value": "#5a5a5a"}, "value": "black"}}},
     {"data": {"name": "boxes"}, "transform": [{"filter": "datum.organ === 'spleen'"}],
      "mark": {"type": "tick", "thickness": 1.5, "size": 24},
      "encoding": {"x": {"field": "group", "type": "nominal", "axis": null}, "y": {"field": "min", "type": "quantitative", "axis": null},
       "color": {"condition": {"test": "datum.group === 'Allopurinol'", "value": "#5a5a5a"}, "value": "black"}}},
     {"data": {"name": "points"}, "transform": [{"filter": "datum.organ === 'spleen'"}],
      "mark": {"type": "point", "filled": true, "stroke": "black", "strokeWidth": 1, "opacity": 1},
      "encoding": {"x": {"field": "group", "type": "nominal", "axis": null},
       "xOffset": {"field": "lane", "type": "quantitative", "scale": {"domain": [-4, 4], "range": [-1.6, 49.6]}},
       "y": {"field": "value", "type": "quantitative", "axis": null},
       "fill": {"condition": [{"test": "datum.group === 'untreated'", "value": "white"}, {"test": "datum.group === 'Allopurinol'", "value": "#a8a8a8"}], "value": "black"},
       "shape": {"condition": {"test": "datum.group === 'Allo plus F2 + SLA-SE'", "value": "square"}, "value": "circle"},
       "size": {"condition": {"test": "datum.group === 'Allo plus F2 + SLA-SE'", "value": 100}, "value": 55}}},
     {"data": {"name": "stars"}, "transform": [{"filter": "datum.organ === 'spleen'"}],
      "mark": {"type": "text", "fontSize": 22, "fontWeight": "bold", "baseline": "middle", "dy": 5, "color": "black"},
      "encoding": {"x": {"field": "group", "type": "nominal", "axis": null}, "y": {"field": "value", "type": "quantitative", "axis": null}, "text": {"field": "label"}}}
    ]},
   {"width": 152, "height": 250,
    "title": {"text": "F", "anchor": "start", "frame": "bounds", "dx": 8, "offset": -21, "fontSize": 28, "font": "Liberation Sans", "fontWeight": "normal"},
    "view": {"stroke": "black", "strokeWidth": 2},
    "resolve": {"axis": {"y": "independent"}},
    "layer": [
     {"data": {"name": "heat"},
      "mark": {"type": "rect", "stroke": "#a0a0a0", "strokeWidth": 1},
      "encoding": {
       "x": {"field": "tissue", "type": "nominal", "scale": {"domain": ["Bone marrow", "Kidney", "Skin", "Liver", "Spleen", "Lymph node"], "paddingInner": 0, "paddingOuter": 0}, "axis": {"title": null, "labelAngle": 270, "labelFontSize": 11.5, "labelFontWeight": "bold", "tickSize": 4, "tickWidth": 1.5, "domainWidth": 2, "labelPadding": 2}},
       "y": {"field": "mouse", "type": "nominal", "scale": {"domain": ["A1","A2","A3","A4","A5","A6","A7","A8","A9","A10","A11","A12","A13","A14","A15","A16","A17","A18","A19","A20","A21","A22","A23"], "paddingInner": 0, "paddingOuter": 0}, "axis": {"orient": "left", "values": ["A1","A3","A5","A8","A10","A12","A14","A17","A19","A21","A23"], "title": null, "labelFontSize": 5, "labelFontWeight": "bold", "tickSize": 3, "tickWidth": 1, "domainWidth": 2, "labelPadding": 1}},
       "color": {"field": "level", "type": "nominal", "scale": {"domain": ["1001 - 10000", "101 - 1000", "11 - 100", "1e-002 - 10", "0"], "range": ["#a30000", "#ff6600", "#ffff00", "#f4f6c6", "#ffffff"]},
        "legend": {"title": "parasite genome equivalents per ul sample", "titleOrient": "right", "titleAlign": "center", "titleBaseline": "top", "titleFontSize": 11.5, "titleFontWeight": "normal", "titleAnchor": "middle", "titlePadding": 12, "titleLimit": 400, "symbolType": "M-0.4,-1V1H0.4V-1Z", "symbolSize": 2500, "symbolStrokeColor": "#c8c8c8", "symbolStrokeWidth": 0.5, "labelFontSize": 11.5, "labelOffset": -9, "offset": -13, "rowPadding": 0, "padding": 0,
         "encode": {"title": {"update": {"angle": {"value": 270}}}}}}
      }},
     {"data": {"name": "separators"},
      "mark": {"type": "rule", "strokeWidth": 3, "color": "black"},
      "encoding": {
       "y": {"field": "mouse", "type": "nominal", "axis": {"orient": "left", "values": ["A3", "A9", "A18"], "labelExpr": "datum.value === 'A3' ? 'untreated' : datum.value === 'A9' ? 'Allopurinol' : ['Allo plus', 'F2 + SLA-SE']", "labelAlign": "left", "labelBaseline": "middle", "labelPadding": 92, "ticks": false, "domain": false, "labelFontSize": 12, "labelFontWeight": "normal", "labelLineHeight": 15, "title": "parasite burden (day 360)", "titleAngle": 0, "titleX": 98, "titleY": -17, "titleAlign": "center", "titleBaseline": "alphabetic", "titleFontSize": 12, "titleFontWeight": "bold"}}
      }}
    ]}
 ]}
]
}
